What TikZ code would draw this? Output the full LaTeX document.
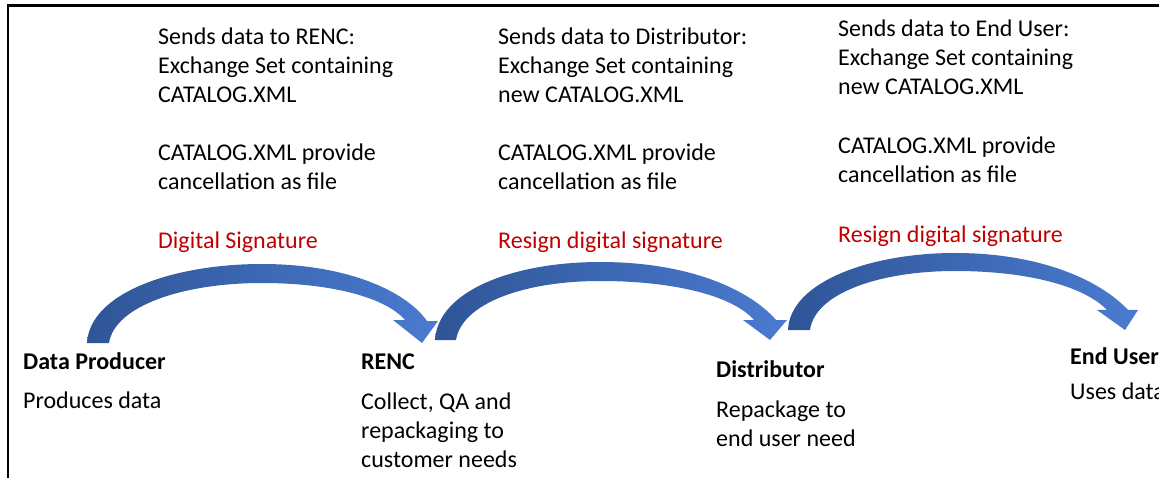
\documentclass[tikz,border=0pt]{standalone}
\usepackage{fontspec}
\setmainfont{Carlito}
\definecolor{arrdark}{HTML}{2F5597}
\definecolor{arrlight}{HTML}{4A7BD0}
\definecolor{sigred}{HTML}{C00000}
\begin{document}
\begin{tikzpicture}[x=1pt,y=-1pt,
  txt/.style={anchor=base west,inner sep=0pt,font=\fontsize{24}{29}\selectfont},
  sig/.style={txt,text=sigred},
  role/.style={txt,font=\fontsize{24}{29}\selectfont\bfseries},
  carrow/.style={left color=arrdark,right color=arrlight,draw=none}]
\clip (0,0) rectangle (1159,478);
\fill[white] (0,0) rectangle (1159,478);
\draw[line width=2.2pt] (8,485) -- (8,5.5) -- (1170,5.5);

% column 1
\node[txt] (a1) at (158,45) {Sends data to RENC:};
\node[txt] (a2) at (158,74) {Exchange Set containing};
\node[txt] (a3) at (158,103) {CATALOG.XML};
\node[txt] (a4) at (158,161) {CATALOG.XML provide};
\node[txt] (a5) at (158,190) {cancellation as file};
\node[sig] (a6) at (158,249) {Digital Signature};
% column 2
\node[txt] (b1) at (498,45) {Sends data to Distributor:};
\node[txt] (b2) at (498,74) {Exchange Set containing};
\node[txt] (b3) at (498,103) {new CATALOG.XML};
\node[txt] (b4) at (498,161) {CATALOG.XML provide};
\node[txt] (b5) at (498,190) {cancellation as file};
\node[sig] (b6) at (498,249) {Resign digital signature};
% column 3
\node[txt] (c1) at (838,37) {Sends data to End User:};
\node[txt] (c2) at (838,66) {Exchange Set containing};
\node[txt] (c3) at (838,95) {new CATALOG.XML};
\node[txt] (c4) at (838,154) {CATALOG.XML provide};
\node[txt] (c5) at (838,183) {cancellation as file};
\node[sig] (c6) at (838,243) {Resign digital signature};

% roles
\node[role] (p) at (23,369) {Data Producer};
\node[txt] (pd) at (23,408) {Produces data};
\node[role] (r) at (361,369) {RENC};
\node[txt] (rd1) at (361,409) {Collect, QA and};
\node[txt] (rd2) at (361,438) {repackaging to};
\node[txt] (rd3) at (361,467) {customer needs};
\node[role] (d) at (716,377) {Distributor};
\node[txt] (dd1) at (716,417) {Repackage to};
\node[txt] (dd2) at (716,446) {end user need};
\node[role] (u) at (1070,364) {End User};
\node[txt] (ud) at (1070,399) {Uses data};

% curved arrows
\shade[carrow] (87,343) .. controls (90,292) and (175,264) .. (262,264)
  .. controls (345,264) and (405,290) .. (427,321) -- (438,321) -- (422,343)
  -- (393,320) -- (405,320) .. controls (385,297) and (330,283) .. (262,283)
  .. controls (185,283) and (115,305) .. (109,343) -- cycle;
\shade[carrow] (435,340) .. controls (438,290) and (515,262) .. (600,262)
  .. controls (690,262) and (750,290) .. (776,320) -- (787,320) -- (770,340)
  -- (743,320) -- (754,320) .. controls (733,296) and (675,281) .. (600,281)
  .. controls (525,281) and (462,303) .. (456,340) -- cycle;
\shade[carrow] (788,330) .. controls (790,282) and (870,253) .. (955,253)
  .. controls (1040,253) and (1100,280) .. (1128,310) -- (1138,310) -- (1125,330)
  -- (1097,310) -- (1107,310) .. controls (1085,287) and (1030,271) .. (955,271)
  .. controls (880,271) and (815,293) .. (810,330) -- cycle;
\end{tikzpicture}
\end{document}
